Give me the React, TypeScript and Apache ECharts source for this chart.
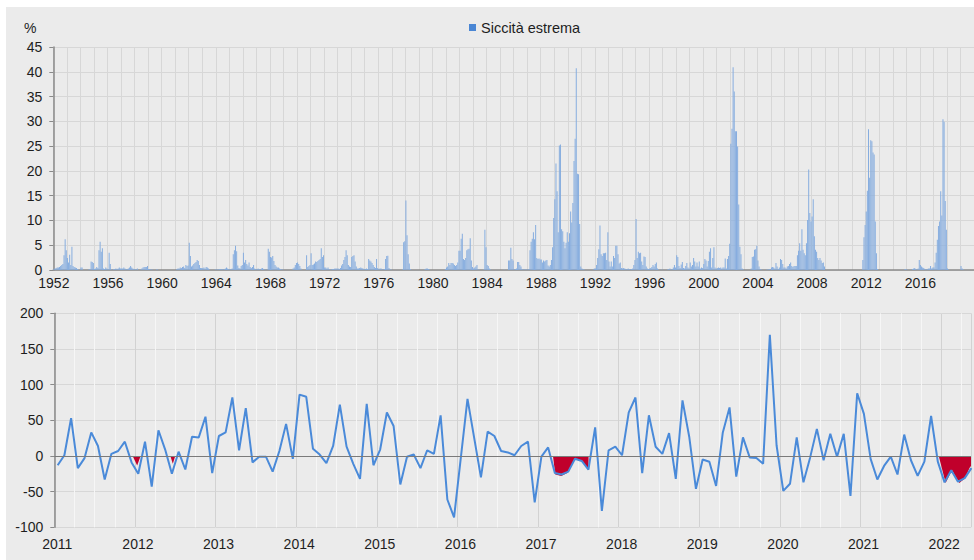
import React, { useEffect, useRef } from "react";
import * as echarts from "echarts";

// ---------- Top panel: % area in extreme drought, monthly, Jan 1952 - Dec 2019 ----------
const droughtStartYear = 1952;
const drought1950s: number[][] = [
  [0.2, 0.3, 0.4, 0.5, 0.5, 0.6, 0.8, 1.0, 1.2, 3.0, 6.2, 4.0],
  [2.4, 1.5, 3.1, 1.0, 4.7, 0.8, 0.6, 0.5, 0.4, 0.2, 0.1, 0],
  [0.5, 0.5, 0, 0, 0, 0, 0, 0.1, 0.2, 1.7, 1.6, 1.4],
  [0.2, 0.3, 0.6, 0.4, 4.0, 5.7, 3.7, 4.4, 0.3, 0.2, 0.5, 0.3],
  [0.2, 3.5, 1.2, 0.1, 0, 0.2, 0.2, 0.3, 0.2, 0.3, 0.5, 0.3],
  [0.3, 0.3, 0.5, 0.3, 0.2, 0.2, 0.3, 0.5, 0.8, 0.5, 0.3, 0.2],
  [0.2, 0.1, 0.3, 0, 0, 0.1, 0.3, 0.5, 0.6, 0.6, 0.6, 0.8],
  [0.2, 0.2, 0.1, 0.1, 0, 0, 0, 0.1, 0.1, 0, 0, 0],
];
const drought1960s: number[][] = [
  [0, 0, 0, 0, 0, 0, 0, 0, 0, 0, 0, 0],
  [0, 0.2, 0.3, 0.3, 0.5, 0.4, 0.6, 0.7, 0.4, 1.0, 0.8, 0.9],
  [5.5, 2.8, 0.7, 0.9, 1.2, 1.4, 1.6, 2.0, 1.8, 1.0, 0.4, 0.4],
  [0.4, 0.5, 0.3, 0.6, 0.5, 0.3, 0.1, 0, 0, 0, 0, 0.1],
  [0.1, 0.1, 0.1, 0.2, 0.2, 0.2, 0.1, 0.2, 0.3, 0.5, 0.3, 0.2],
  [0.2, 0.2, 0.3, 3.2, 4.0, 4.9, 3.8, 0.9, 0.4, 0.3, 0.8, 1.0],
  [3.5, 1.5, 2.0, 1.2, 0.9, 1.5, 0.6, 0.4, 0.6, 1.0, 0.3, 0.2],
  [0.2, 0.3, 0.2, 0.1, 0.3, 0.4, 0.2, 0.1, 0, 0.1, 4.3, 3.7],
  [2.6, 2.5, 2.8, 1.8, 1.0, 0.7, 0.5, 0.5, 0.3, 0.2, 0.1, 0.1],
  [0, 0, 0, 0, 0, 0, 0, 0, 0.3, 0.5, 1.0, 1.4],
];
const drought1970s: number[][] = [
  [1.5, 1.2, 0.8, 0.3, 0, 0, 0, 0, 3.0, 0.6, 0.8, 1.0],
  [3.4, 1.0, 1.1, 1.3, 1.7, 1.6, 1.8, 2.0, 2.2, 4.4, 2.6, 3.0],
  [0.5, 0.5, 0.3, 0.5, 0.2, 0.1, 0.1, 0.2, 0.2, 0.3, 0.3, 0.3],
  [0.3, 0.2, 0.4, 0.9, 1.2, 2.0, 2.6, 4.0, 3.0, 1.0, 0.7, 0.6],
  [2.6, 2.8, 3.0, 1.7, 0.7, 0.3, 0.3, 0.4, 0.5, 0.4, 0.3, 0.2],
  [0.2, 0.3, 0.2, 2.2, 1.9, 1.7, 1.4, 1.0, 0.6, 0.4, 2.2, 0.4],
  [0.2, 0.3, 0.3, 0.1, 0.1, 0.2, 2.2, 2.8, 2.9, 0.4, 0.1, 0.1],
  [0, 0, 0, 0, 0, 0, 0, 0, 0, 0.1, 5.6, 5.8],
  [14, 7, 3.2, 1.3, 0.2, 0, 0, 0, 0, 0, 0, 0],
  [0, 0, 0, 0, 0, 0.2, 0.3, 0.3, 0.2, 0.1, 0, 0],
];
const drought1980s: number[][] = [
  [0, 0, 0, 0, 0, 0, 0, 0, 0, 0, 0, 0.2],
  [0.5, 0.7, 1.4, 1.0, 1.4, 1.4, 1.3, 1.0, 0.8, 1.0, 1.5, 3.9],
  [3.9, 6.3, 7.3, 2.2, 2.0, 2.4, 4.0, 4.2, 4.3, 6.4, 1.9, 0.6],
  [0.3, 0.5, 0.7, 1.0, 0.1, 0.1, 0, 0, 0, 0.1, 8.1, 4.6],
  [1.0, 0.8, 0.3, 0.1, 0, 0, 0, 0, 0, 0, 0, 0],
  [0, 0, 0, 0.1, 0, 0, 0, 1.9, 1.9, 4.5, 2.2, 1.9],
  [0.1, 0.2, 0.3, 1.6, 1.6, 1.0, 0.7, 0.2, 0.1, 0.1, 0.1, 0.1],
  [0.1, 0.2, 4.0, 5.7, 6.3, 7.6, 6.2, 9.1, 2.4, 2.2, 2.3, 2.1],
  [2.1, 1.5, 1.9, 1.7, 1.9, 2.0, 0.9, 0.7, 1.0, 2.0, 4.6, 10.5],
  [14.3, 21.5, 15.9, 7.6, 25.1, 25.3, 8.2, 7.8, 5.7, 4.4, 5.5, 7.6],
];
const drought1990s: number[][] = [
  [5.7, 7.4, 11.8, 9.6, 13.5, 22, 26.5, 40.7, 19.4, 19.3, 9.3, 0.7],
  [0.3, 0.2, 0.1, 0, 0, 0, 0, 0, 0, 0, 0.1, 0.3],
  [0.3, 1.0, 2.4, 4.2, 9.0, 3.2, 2.8, 3.4, 3.4, 3.5, 2.0, 7.6],
  [1.7, 0.7, 1.7, 0.7, 2.8, 2.4, 4.9, 4.9, 3.2, 1.3, 1.5, 0.4],
  [0.3, 0.4, 0.3, 0.2, 0.2, 0.3, 0.2, 0.1, 0.2, 0.3, 1.0, 2.0],
  [10.3, 2.4, 3.7, 3.4, 3.5, 1.7, 1.0, 2.7, 2.6, 0.7, 0.3, 0.2],
  [0.3, 0.4, 0.6, 1.0, 0.7, 1.2, 1.5, 0.3, 0.1, 0, 0, 0.1],
  [0, 0, 0, 0, 0.1, 0.2, 0.3, 0.1, 0.2, 0.5, 1.0, 0.5],
  [3.0, 2.6, 0.8, 0.4, 1.1, 1.6, 0.4, 0.3, 0.8, 1.4, 0.5, 0.3],
  [1.5, 0.7, 1.0, 2.4, 1.7, 0.7, 1.5, 0.7, 1.7, 0.3, 0.5, 0.4],
];
const drought2000s: number[][] = [
  [1.2, 2.2, 1.9, 0.7, 1.8, 3.7, 4.4, 0.5, 2.4, 4.6, 0.5, 0.3],
  [0.4, 0.5, 0.4, 0.5, 0.3, 0.5, 0.5, 2.3, 0.3, 2.2, 2.8, 5.3],
  [25.5, 28.5, 40.9, 36, 28, 28, 24.9, 13.2, 4.7, 3.2, 0.3, 0.1],
  [0, 0, 0, 0, 0, 0, 0.3, 2.6, 2.7, 4.1, 4.2, 4.9],
  [1.9, 0.7, 0.2, 0.1, 0, 0, 0, 0, 0.1, 0.1, 0.2, 0.1],
  [0.5, 0.6, 0.5, 0.3, 1.4, 0.7, 0.2, 0.5, 2.2, 2.0, 1.2, 0.5],
  [0.5, 0.3, 0.7, 0.8, 1.2, 1.5, 0.8, 0.6, 0.8, 0.8, 0.8, 3.0],
  [3.9, 5.4, 3.9, 8.2, 4.1, 3.4, 3.0, 5.4, 10.1, 20.3, 11.5, 9.8],
  [10.8, 14.3, 6.8, 4.1, 3.7, 2.4, 2.0, 2.4, 1.9, 1.4, 1.5, 0.7],
  [0, 0, 0, 0, 0, 0, 0, 0, 0, 0, 0, 0],
];
const drought2010s: number[][] = [
  [0, 0, 0, 0, 0, 0, 0, 0, 0, 0, 0, 0],
  [0, 0, 0, 0, 0, 0, 0, 0, 0, 2.0, 6.6, 9.1],
  [11.8, 16, 28.4, 18.6, 26.2, 26, 23.7, 23.3, 9.8, 3.4, 0.2, 0],
  [0, 0, 0, 0, 0, 0, 0, 0, 0, 0, 0, 0],
  [0, 0, 0, 0, 0, 0, 0, 0, 0, 0, 0.1, 0.2],
  [0.1, 0, 0, 0, 0, 0.2, 0.3, 0.4, 0.2, 0.1, 0.3, 2.0],
  [1.0, 0.7, 0.5, 0.4, 0.2, 0.1, 0.2, 0.3, 0.3, 0.8, 0.3, 0.5],
  [0.5, 1.5, 3.5, 6.1, 8.9, 9.8, 15.9, 11, 30.4, 29.9, 13.9, 8.1],
  [0.3, 0.1, 0, 0, 0, 0, 0, 0, 0, 0, 0, 0],
  [0.8, 0.3, 0.1, 0, 0, 0, 0, 0, 0, 0, 0, 0],
];
const droughtTickEveryMonths = 48;
const droughtYTicks = { min: 0, max: 45, step: 5 };

// ---------- Bottom panel: monthly index, Jan 2011 - May 2022 ----------
const indexStartYear = 2011;
const indexMonthly: number[] = [
  -13, 1, 53, -17, -3, 33, 14, -33, 3, 7, 20, -9,
  -25, 20, -43, 36, 9, -25, 6, -19, 27, 26, 55, -24,
  28, 33, 82, 8, 67, -9, -1, -1, -22, 7, 45, -4,
  86, 83, 10, 2, -10, 14, 72, 13, -11, -32, 73, -13,
  9, 61, 42, -40, -1, 2, -17, 8, 3, 57, -61, -86,
  -3, 80, 25, -30, 34, 28, 7, 5, 1, 14, 20, -65,
  -1, 12, -24, -26, -22, -4, -7, -19, 40, -77, 8, 13,
  1, 61, 82, -24, 57, 13, 3, 32, -32, 78, 27, -46,
  -5, -8, -42, 33, 68, -29, 26, -2, -3, -11, 170, 15,
  -49, -39, 26, -37, -2, 38, -6, 31, -1, 31, -56, 88,
  59, -4, -33, -14, -1, -26, 30, -6, -28, -8, 56, -8,
  -37, -20, -36, -31, -17,
];
// shaded deficit periods: [time (fractional year), value]
const deficitPeriods: number[][][] = [
  [[2011.972, 0], [2012.028, -13.5], [2012.07, 0]],
  [[2012.44, 0], [2012.47, -11], [2012.5, 0]],
  [[2017.185, 0], [2017.214, -26], [2017.288, -28], [2017.362, -24], [2017.453, -4], [2017.559, -8], [2017.625, -20], [2017.627, 0]],
  [[2021.97, 0], [2022.055, -38], [2022.135, -20], [2022.225, -38], [2022.29, -32], [2022.355, -16], [2022.37, -14]],
];
const indexXRange = { min: 2011, max: 2022.37 };
const indexYTicks = { min: -100, max: 200, step: 50 };

const legendName = "Siccità estrema";

export default function App() {
  const ref = useRef<HTMLDivElement>(null);

  useEffect(() => {
    if (!ref.current) return;
    const chart = echarts.init(ref.current, null, { renderer: "svg" });
    const FONT = "'Liberation Sans', Arial, sans-serif";
    const TXT = "#1e1e1e";
    const AXIS = "#8a8a8a";
    const GRID = "#d7d7d7";

    const rows = [
      ...drought1950s, ...drought1960s, ...drought1970s,
      ...drought1980s, ...drought1990s, ...drought2000s, ...drought2010s,
    ];
    const categories: string[] = [];
    const values: number[] = [];
    rows.forEach((row, yi) =>
      row.forEach((v, m) => {
        categories.push(`${droughtStartYear + yi}-${m + 1}`);
        values.push(v);
      })
    );
    const linePts = indexMonthly.map((v, i) => [indexStartYear + (i + 0.5) / 12, v]);

    const labelStyle = { color: TXT, fontSize: 14, fontFamily: FONT };

    const option: any = {
      animation: false,
      textStyle: { fontFamily: FONT },
      legend: {
        left: 463,
        top: 13,
        padding: 0,
        icon: "rect",
        itemWidth: 7,
        itemHeight: 7,
        itemGap: 10,
        textStyle: { color: TXT, fontSize: 14.5, fontFamily: FONT },
        data: [{ name: legendName, itemStyle: { color: "#4a86d4" } }],
      },
      graphic: [
        {
          type: "text",
          left: 18,
          top: 14,
          style: { text: "%", fill: TXT, font: `14px ${FONT}` },
        },
      ],
      grid: [
        { left: 47.3, right: 0, top: 40, bottom: 290 },
        { left: 48.3, right: 0, top: 306.3, bottom: 32.7 },
      ],
      xAxis: [
        {
          gridIndex: 0,
          type: "category",
          position: "bottom",
          data: categories,
          boundaryGap: true,
          axisLine: { show: true, lineStyle: { color: AXIS, width: 1.5 } },
          axisTick: { show: false },
          axisLabel: {
            ...labelStyle,
            margin: 6,
            interval: (i: number) => i % droughtTickEveryMonths === 0,
            formatter: (v: string) => v.slice(0, 4),
          },
          splitLine: {
            show: true,
            interval: (i: number) => i % 12 === 0,
            lineStyle: { color: GRID, width: 1 },
          },
        },
        {
          gridIndex: 1,
          type: "value",
          position: "bottom",
          min: indexXRange.min,
          max: indexXRange.max,
          interval: 0.25,
          axisLine: { show: false },
          axisTick: { show: false },
          axisLabel: { show: false },
          splitLine: { show: true, lineStyle: { color: "#f6f6f6", width: 1 } },
        },
        {
          gridIndex: 1,
          type: "value",
          position: "bottom",
          min: indexXRange.min,
          max: indexXRange.max,
          interval: 1,
          axisLine: { show: false },
          axisTick: { show: false },
          axisLabel: {
            ...labelStyle,
            margin: 10,
            padding: [0, 0, 0, 6],
            formatter: (v: number) =>
              Math.abs(v - Math.round(v)) < 1e-6 ? String(Math.round(v)) : "",
          },
          splitLine: { show: true, lineStyle: { color: "#d2d2d2", width: 1 } },
        },
      ],
      yAxis: [
        {
          gridIndex: 0,
          type: "value",
          min: droughtYTicks.min,
          max: droughtYTicks.max,
          interval: droughtYTicks.step,
          axisLine: { show: true, lineStyle: { color: AXIS, width: 1.5 } },
          axisTick: { show: true, length: 4, lineStyle: { color: AXIS } },
          axisLabel: { ...labelStyle, margin: 11 },
          splitLine: { show: true, lineStyle: { color: GRID, width: 1 } },
        },
        {
          gridIndex: 1,
          type: "value",
          min: indexYTicks.min,
          max: indexYTicks.max,
          interval: indexYTicks.step,
          axisLine: { show: true, lineStyle: { color: AXIS, width: 1.5 } },
          axisTick: { show: true, length: 4, lineStyle: { color: AXIS } },
          axisLabel: { ...labelStyle, margin: 11 },
          splitLine: { show: true, lineStyle: { color: GRID, width: 1 } },
        },
      ],
      series: [
        {
          name: legendName,
          type: "bar",
          xAxisIndex: 0,
          yAxisIndex: 0,
          data: values,
          barCategoryGap: "50%",
          itemStyle: { color: "#86addf" },
          silent: true,
        },
        ...deficitPeriods.map((seg) => ({
          type: "line",
          xAxisIndex: 2,
          yAxisIndex: 1,
          data: seg,
          symbol: "none",
          lineStyle: { opacity: 0, width: 0 },
          areaStyle: { color: "#c0002b", opacity: 1 },
          z: 2,
          silent: true,
        })),
        {
          type: "line",
          xAxisIndex: 2,
          yAxisIndex: 1,
          data: linePts,
          symbol: "none",
          lineStyle: { color: "#4a8ad9", width: 2 },
          z: 3,
          silent: true,
          markLine: {
            silent: true,
            symbol: "none",
            label: { show: false },
            lineStyle: { color: "#7a7a7a", width: 1.2, type: "solid" },
            data: [{ yAxis: 0 }],
          },
        },
      ],
    };

    chart.setOption(option);
    return () => chart.dispose();
  }, []);

  return (
    <div style={{ position: "fixed", left: 0, top: 0, width: 974, height: 560, background: "#fff" }}>
      <div
        ref={ref}
        style={{ position: "absolute", left: 6, top: 7, width: 968, height: 553, background: "#ebebeb" }}
      />
    </div>
  );
}
